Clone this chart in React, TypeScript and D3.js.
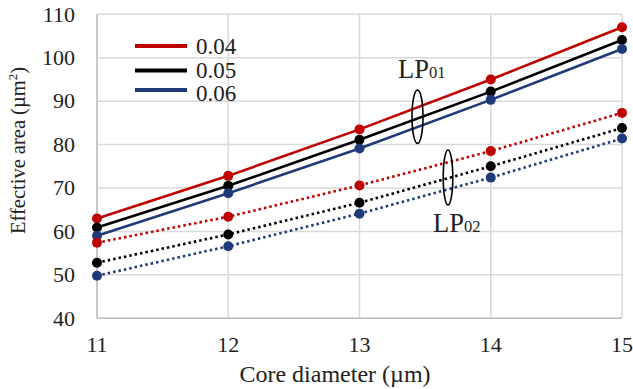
import React from "react";
import * as d3 from "d3";

const coreDiameters = [11, 12, 13, 14, 15];
const yTicks = [40, 50, 60, 70, 80, 90, 100, 110];
const legendLabels = ["0.04", "0.05", "0.06"];
const colors = ["#c00000", "#000000", "#1f3a78"];

const lp01_004 = [63.0, 72.8, 83.5, 95.0, 107.0];
const lp01_005 = [60.9, 70.5, 81.1, 92.2, 104.1];
const lp01_006 = [59.0, 68.8, 79.1, 90.3, 102.0];
const lp02_004 = [57.4, 63.4, 70.6, 78.5, 87.3];
const lp02_005 = [52.8, 59.3, 66.6, 75.0, 83.8];
const lp02_006 = [49.8, 56.6, 64.1, 72.4, 81.4];

const W = 633, H = 389;
const x = d3.scaleLinear().domain([11, 15]).range([97, 622]);
const y = d3.scaleLinear().domain([40, 110]).range([318.3, 14.3]);
const font = "Liberation Serif";

export default function App() {
  const line = d3.line<number>().x((_, i) => x(coreDiameters[i])).y((d) => y(d));
  const series = [
    { v: lp01_004, c: colors[0], dotted: false },
    { v: lp01_005, c: colors[1], dotted: false },
    { v: lp01_006, c: colors[2], dotted: false },
    { v: lp02_004, c: colors[0], dotted: true },
    { v: lp02_005, c: colors[1], dotted: true },
    { v: lp02_006, c: colors[2], dotted: true },
  ];
  const legendY = [46, 70.5, 90];
  const legendTextY = [46, 70, 93];
  return (
    <svg width={W} height={H} style={{ position: "absolute", left: 0, top: 0, background: "#fff" }}>
      <rect width={W} height={H} fill="#fff" />
      {yTicks.map((t) => (
        <line key={"gy" + t} x1={x(11)} x2={x(15)} y1={y(t)} y2={y(t)} stroke="#d9d9d9" strokeWidth={1.5} />
      ))}
      {coreDiameters.map((t) => (
        <line key={"gx" + t} x1={x(t)} x2={x(t)} y1={y(40)} y2={y(110)} stroke="#d9d9d9" strokeWidth={1.5} />
      ))}
      <line x1={x(11)} x2={x(11)} y1={y(40)} y2={y(110)} stroke="#bfbfbf" strokeWidth={1.5} />
      <line x1={x(11)} x2={x(15)} y1={y(40)} y2={y(40)} stroke="#bfbfbf" strokeWidth={1.5} />
      {yTicks.map((t) => (
        <text key={"ty" + t} x={75} y={y(t)} dy="0.33em" textAnchor="end" fontFamily={font} fontSize={22} fill="#222">
          {t}
        </text>
      ))}
      {coreDiameters.map((t) => (
        <text key={"tx" + t} x={x(t)} y={344.5} dy="0.33em" textAnchor="middle" fontFamily={font} fontSize={22} fill="#222">
          {t}
        </text>
      ))}
      <text x={335} y={382} textAnchor="middle" fontFamily={font} fontSize={24} fill="#222">
        Core diameter (µm)
      </text>
      <text transform="translate(25,150.5) rotate(-90)" textAnchor="middle" fontFamily={font} fontSize={20.5} fill="#222">
        Effective area (µm<tspan dy={-8} fontSize={13}>2</tspan><tspan dy={8}>)</tspan>
      </text>
      {series.map((s, i) => (
        <g key={"s" + i}>
          <path
            d={line(s.v) || ""}
            fill="none"
            stroke={s.c}
            strokeWidth={2.6}
            strokeDasharray={s.dotted ? "2.5 3" : undefined}
          />
          {s.v.map((d, j) => (
            <circle key={j} cx={x(coreDiameters[j])} cy={y(d)} r={5} fill={s.c} />
          ))}
        </g>
      ))}
      {legendLabels.map((l, i) => (
        <g key={"lg" + i}>
          <line x1={135} x2={187} y1={legendY[i]} y2={legendY[i]} stroke={colors[i]} strokeWidth={3.8} />
          <text x={196} y={legendTextY[i]} dy="0.33em" fontFamily={font} fontSize={23} fill="#222">
            {l}
          </text>
        </g>
      ))}
      <ellipse cx={417.5} cy={116.7} rx={5.5} ry={26.7} fill="none" stroke="#000" strokeWidth={1.6} />
      <text x={398} y={77.7} fontFamily={font} fontSize={26.5} fill="#222">
        LP<tspan fontSize={16.5}>01</tspan>
      </text>
      <ellipse cx={448} cy={177.5} rx={4.8} ry={27.5} fill="none" stroke="#000" strokeWidth={1.6} />
      <text x={433} y={231.7} fontFamily={font} fontSize={26.5} fill="#222">
        LP<tspan fontSize={16.5}>02</tspan>
      </text>
    </svg>
  );
}
